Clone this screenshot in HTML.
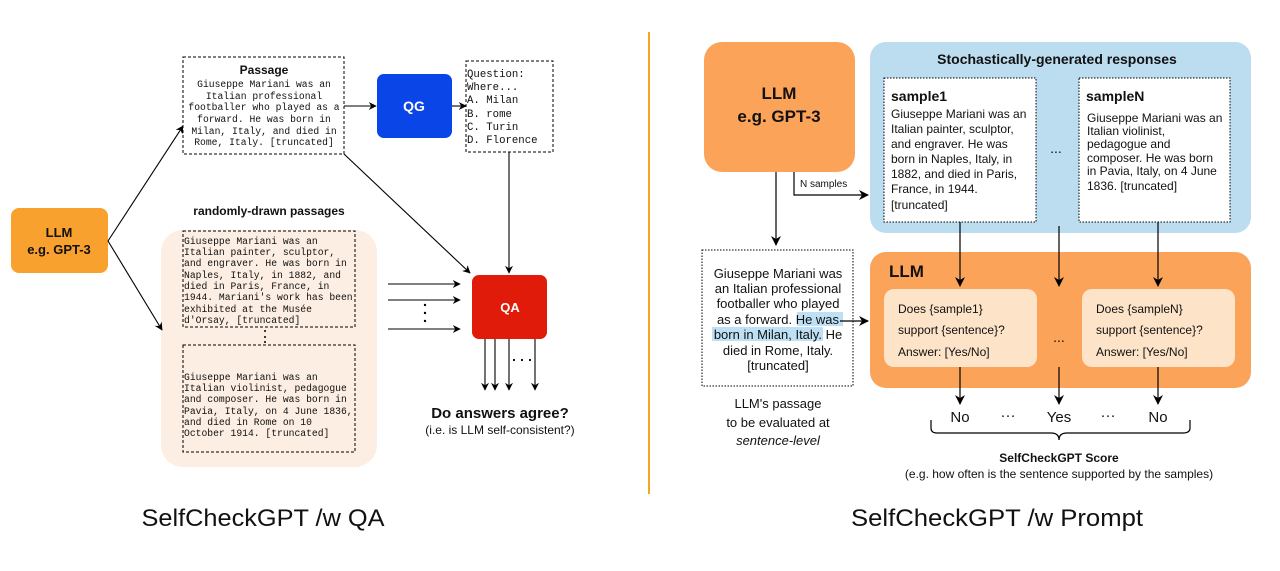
<!DOCTYPE html>
<html><head><meta charset="utf-8"><style>
html,body{margin:0;padding:0;background:#fff;width:1280px;height:571px;overflow:hidden}
svg{display:block}
.m{font-family:"Liberation Mono",monospace;font-size:9.7px;fill:#111}
.s{font-family:"Liberation Sans",sans-serif;fill:#111}
.b{font-weight:bold}
</style></head><body>
<svg width="1280" height="571" viewBox="0 0 1280 571" xmlns="http://www.w3.org/2000/svg">
<defs>
<marker id="a" viewBox="0 0 10 10" refX="9" refY="5" markerWidth="8" markerHeight="8" orient="auto-start-reverse" markerUnits="userSpaceOnUse"><path d="M0,0 L10,5 L0,10 L3,5 z" fill="#000"/></marker>
<marker id="a2" viewBox="0 0 10 10" refX="9" refY="5" markerWidth="10" markerHeight="10" orient="auto" markerUnits="userSpaceOnUse"><path d="M0,0 L10,5 L0,10 L3,5 z" fill="#000"/></marker>
</defs>

<!-- LEFT -->
<rect x="11" y="208" width="97" height="65" rx="8" fill="#F9A12E"/>
<text class="s b" x="59" y="237" font-size="13" text-anchor="middle">LLM</text>
<text class="s b" x="59" y="254" font-size="13" text-anchor="middle">e.g. GPT-3</text>

<rect x="183" y="57" width="161" height="97" fill="#fff" stroke="#000" stroke-dasharray="3,2"/>
<text class="s b" x="264" y="74" font-size="12" text-anchor="middle">Passage</text>
<g class="m" text-anchor="middle">
<text x="264" y="87">Giuseppe Mariani was an</text>
<text x="264" y="99">Italian professional</text>
<text x="264" y="110">footballer who played as a</text>
<text x="264" y="122">forward. He was born in</text>
<text x="264" y="134">Milan, Italy, and died in</text>
<text x="264" y="145">Rome, Italy. [truncated]</text>
</g>

<rect x="377" y="74" width="75" height="64" rx="7" fill="#0A45E8"/>
<text class="s b" x="414" y="111" font-size="14" text-anchor="middle" style="fill:#fff">QG</text>

<rect x="466" y="61" width="87" height="91" fill="#fff" stroke="#000" stroke-dasharray="3,2"/>
<g class="m" style="font-size:10.7px">
<text x="467" y="77">Question:</text>
<text x="467" y="90">Where...</text>
<text x="467" y="103">A. Milan</text>
<text x="467" y="117">B. rome</text>
<text x="467" y="130">C. Turin</text>
<text x="467" y="143">D. Florence</text>
</g>

<rect x="161" y="230" width="216" height="237" rx="22" fill="#FCEEE2"/>
<text class="s b" x="269" y="215" font-size="12" text-anchor="middle">randomly-drawn passages</text>
<rect x="183" y="231" width="172" height="96" fill="none" stroke="#000" stroke-dasharray="3,2"/>
<g class="m">
<text x="184" y="244">Giuseppe Mariani was an</text>
<text x="184" y="255">Italian painter, sculptor,</text>
<text x="184" y="266">and engraver. He was born in</text>
<text x="184" y="278">Naples, Italy, in 1882, and</text>
<text x="184" y="289">died in Paris, France, in</text>
<text x="184" y="300">1944. Mariani's work has been</text>
<text x="184" y="312">exhibited at the Musée</text>
<text x="184" y="323">d'Orsay, [truncated]</text>
</g>
<g fill="#000"><circle cx="265" cy="331" r="1"/><circle cx="265" cy="337" r="1"/><circle cx="265" cy="342" r="1"/></g>
<rect x="183" y="345" width="172" height="107" fill="none" stroke="#000" stroke-dasharray="3,2"/>
<g class="m">
<text x="184" y="380">Giuseppe Mariani was an</text>
<text x="184" y="391">Italian violinist, pedagogue</text>
<text x="184" y="402">and composer. He was born in</text>
<text x="184" y="414">Pavia, Italy, on 4 June 1836,</text>
<text x="184" y="425">and died in Rome on 10</text>
<text x="184" y="436">October 1914. [truncated]</text>
</g>

<rect x="472" y="275" width="75" height="64" rx="7" fill="#E01B0A"/>
<text class="s b" x="510" y="312" font-size="13" text-anchor="middle" style="fill:#fff">QA</text>

<g stroke="#000" fill="none" stroke-width="1.1">
<path d="M108,241 L183,126" marker-end="url(#a)"/>
<path d="M108,241 L162,330" marker-end="url(#a)"/>
<path d="M344,106 L376,106" marker-end="url(#a)"/>
<path d="M452,106 L466,106" marker-end="url(#a)"/>
<path d="M344,154 L470,273" marker-end="url(#a)"/>
<path d="M509,152 L509,273" marker-end="url(#a)"/>
<path d="M388,284 L460,284" marker-end="url(#a)"/>
<path d="M388,300 L460,300" marker-end="url(#a)"/>
<path d="M388,329 L460,329" marker-end="url(#a)"/>
<path d="M485,339 L485,390" marker-end="url(#a)"/>
<path d="M495,339 L495,390" marker-end="url(#a)"/>
<path d="M509,339 L509,390" marker-end="url(#a)"/>
<path d="M535,339 L535,390" marker-end="url(#a)"/>
</g>
<g fill="#000"><circle cx="425" cy="305" r="1.2"/><circle cx="425" cy="313" r="1.2"/><circle cx="425" cy="321" r="1.2"/>
<circle cx="514" cy="360" r="1.1"/><circle cx="522" cy="360" r="1.1"/><circle cx="530" cy="360" r="1.1"/></g>
<text class="s b" x="500" y="418" font-size="15" text-anchor="middle">Do answers agree?</text>
<text class="s" x="500" y="434" font-size="12" text-anchor="middle">(i.e. is LLM self-consistent?)</text>

<line x1="649" y1="32" x2="649" y2="494" stroke="#F5A623" stroke-width="2"/>

<text class="s" x="263" y="526" font-size="24" text-anchor="middle" textLength="243" lengthAdjust="spacingAndGlyphs">SelfCheckGPT /w QA</text>
<text class="s" x="997" y="526" font-size="24" text-anchor="middle" textLength="292" lengthAdjust="spacingAndGlyphs">SelfCheckGPT /w Prompt</text>

<!-- RIGHT -->
<rect x="704" y="42" width="151" height="130" rx="18" fill="#FCA35A"/>
<text class="s b" x="779" y="99" font-size="17" text-anchor="middle">LLM</text>
<text class="s b" x="779" y="122" font-size="17" text-anchor="middle">e.g. GPT-3</text>

<rect x="870" y="42" width="381" height="191" rx="16" fill="#BCDDF0"/>
<text class="s b" x="1057" y="64" font-size="14" text-anchor="middle">Stochastically-generated responses</text>
<rect x="884" y="78" width="152" height="144" fill="#fff" stroke="#000" stroke-dasharray="1.5,1.5"/>
<text class="s b" x="891" y="101" font-size="14">sample1</text>
<g class="s" font-size="12">
<text x="891" y="118">Giuseppe Mariani was an</text>
<text x="891" y="133">Italian painter, sculptor,</text>
<text x="891" y="148">and engraver. He was</text>
<text x="891" y="163">born in Naples, Italy, in</text>
<text x="891" y="178">1882, and died in Paris,</text>
<text x="891" y="193">France, in 1944.</text>
<text x="891" y="209">[truncated]</text>
</g>
<text class="s" x="1056" y="153" font-size="14" text-anchor="middle">...</text>
<rect x="1079" y="78" width="151" height="144" fill="#fff" stroke="#000" stroke-dasharray="1.5,1.5"/>
<text class="s b" x="1086" y="101" font-size="14">sampleN</text>
<g class="s" font-size="12">
<text x="1087" y="122">Giuseppe Mariani was an</text>
<text x="1087" y="135">Italian violinist,</text>
<text x="1087" y="148">pedagogue and</text>
<text x="1087" y="162">composer. He was born</text>
<text x="1087" y="175">in Pavia, Italy, on 4 June</text>
<text x="1087" y="190">1836. [truncated]</text>
</g>

<rect x="870" y="252" width="381" height="136" rx="16" fill="#FCA35A"/>
<text class="s b" x="889" y="277" font-size="17">LLM</text>
<rect x="884" y="289" width="153" height="78" rx="10" fill="#FDE3C8"/>
<rect x="1082" y="289" width="153" height="78" rx="10" fill="#FDE3C8"/>
<g class="s" font-size="12">
<text x="898" y="313">Does {sample1}</text>
<text x="898" y="334">support {sentence}?</text>
<text x="898" y="356">Answer: [Yes/No]</text>
<text x="1096" y="313">Does {sampleN}</text>
<text x="1096" y="334">support {sentence}?</text>
<text x="1096" y="356">Answer: [Yes/No]</text>
</g>
<text class="s" x="1059" y="342" font-size="14" text-anchor="middle">...</text>

<rect x="702" y="250" width="151" height="136" fill="#fff" stroke="#000" stroke-dasharray="1.5,1.5"/>
<rect x="797" y="312" width="46" height="14" fill="#BDE0F5"/>
<rect x="712" y="327" width="111" height="14" fill="#BDE0F5"/>
<g class="s" font-size="13" text-anchor="middle">
<text x="778" y="278">Giuseppe Mariani was</text>
<text x="778" y="293">an Italian professional</text>
<text x="778" y="308">footballer who played</text>
<text x="778" y="324">as a forward. He was</text>
<text x="778" y="339">born in Milan, Italy. He</text>
<text x="778" y="355">died in Rome, Italy.</text>
<text x="778" y="370">[truncated]</text>
<text x="778" y="408">LLM's passage</text>
<text x="778" y="427">to be evaluated at</text>
<text x="778" y="445" font-style="italic">sentence-level</text>
</g>
<text class="s" x="800" y="187" font-size="10">N samples</text>

<g stroke="#000" fill="none" stroke-width="1.2">
<path d="M776,172 L776,245" marker-end="url(#a2)"/>
<path d="M794,172 L794,195 L868,195" marker-end="url(#a2)"/>
<path d="M840,321 L868,321" marker-end="url(#a2)"/>
<path d="M960,222 L960,286" marker-end="url(#a2)"/>
<path d="M1059,226 L1059,286" marker-end="url(#a2)"/>
<path d="M1158,222 L1158,286" marker-end="url(#a2)"/>
<path d="M960,367 L960,404" marker-end="url(#a2)"/>
<path d="M1059,367 L1059,404" marker-end="url(#a2)"/>
<path d="M1158,367 L1158,404" marker-end="url(#a2)"/>
<path d="M931,420 L931,428 Q931,433 937,433 L1051,433 Q1059,433 1059,440 Q1059,433 1067,433 L1183,433 Q1190,433 1190,428 L1190,420"/>
</g>
<g class="s" font-size="15" text-anchor="middle">
<text x="960" y="422">No</text>
<text x="1008" y="420">···</text>
<text x="1059" y="422">Yes</text>
<text x="1108" y="420">···</text>
<text x="1158" y="422">No</text>
</g>
<text class="s b" x="1059" y="462" font-size="12" text-anchor="middle">SelfCheckGPT Score</text>
<text class="s" x="1059" y="478" font-size="12" text-anchor="middle">(e.g. how often is the sentence supported by the samples)</text>
</svg>
</body></html>
